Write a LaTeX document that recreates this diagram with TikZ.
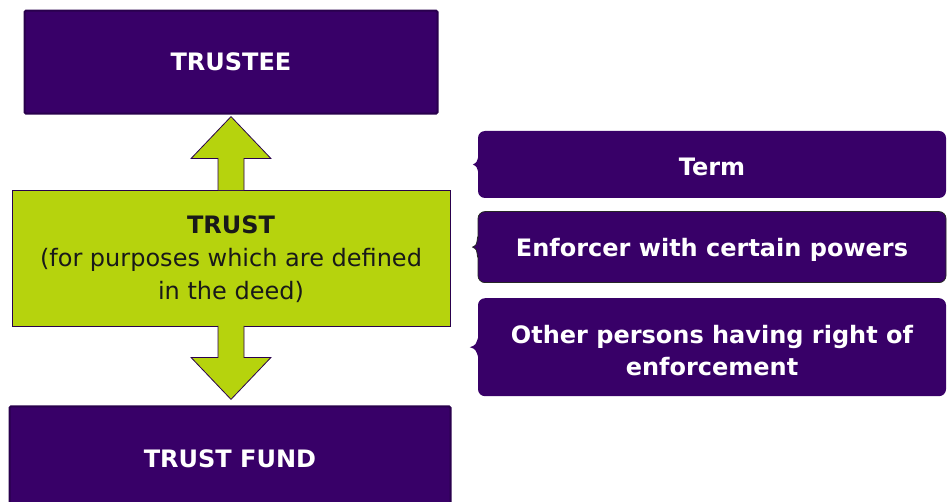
\documentclass[tikz,border=0pt]{standalone}
\usepackage{fontspec}
\setmainfont{DejaVu Sans}
\usetikzlibrary{positioning,calc}
\definecolor{trustpurple}{HTML}{380068}
\definecolor{edgepurple}{HTML}{29004D}
\definecolor{trustgreen}{HTML}{B6D30D}
\tikzset{
partybox/.style={rectangle,fill=trustpurple,draw=edgepurple,line width=2pt,rounded corners=1.5pt,
  text=white,inner sep=0pt,font=\bfseries\fontsize{24}{28}\selectfont},
trustbox/.style={rectangle,fill=trustgreen,draw=edgepurple,line width=0.8pt,inner sep=0pt,
  align=center,text=black!90,font=\fontsize{24}{33}\selectfont},
termbox/.style={rectangle,fill=trustpurple,rounded corners=7pt,text=white,inner sep=0pt,
  align=center,minimum width=468pt,font=\bfseries\fontsize{24}{32}\selectfont},
bigarrow/.style={fill=trustgreen,draw=edgepurple,line width=0.8pt,line join=miter},
brace/.style={fill=trustpurple}}

\begin{document}
\begin{tikzpicture}[x=1pt,y=-1pt]

\useasboundingbox (0,0) rectangle (947,502);
\clip (0,0) rectangle (947,502);

% left column
\node[trustbox,minimum width=438pt,minimum height=136pt,text height=87pt] (trust) at (231,258)
  {\textbf{TRUST}\\(for purposes which are defined\\in the deed)};
\node[partybox,minimum width=413pt,minimum height=103pt,above=75pt of trust] (trustee) {TRUSTEE};
\node[partybox,minimum width=441pt,minimum height=104pt,below=79pt of trust,xshift=-1pt] (fund) {TRUST FUND};

% right column
\node[termbox,minimum height=67pt,text height=23pt] (term) at (712,164.5) {Term};
\node[termbox,minimum height=71pt,text height=24.5pt,draw=black!85,line width=0.8pt,below=13pt of term] (enforcer)
  {Enforcer with certain powers};
\node[termbox,minimum height=98pt,text height=56pt,below=15pt of enforcer] (other)
  {Other persons having right of\\enforcement};

% braces
\path[brace] ([xshift=1pt,yshift=10pt]term.west) .. controls ([xshift=-1pt,yshift=2pt]term.west)
  .. ([xshift=-5pt]term.west) .. controls ([xshift=-1pt,yshift=-2pt]term.west) .. ([xshift=1pt,yshift=-10pt]term.west) -- cycle;
\path[brace,draw=black!85,line width=0.8pt] ([xshift=1pt,yshift=10pt]enforcer.west) -- ([yshift=10pt]enforcer.west)
  .. controls ([xshift=-1pt,yshift=2pt]enforcer.west) .. ([xshift=-5pt]enforcer.west)
  .. controls ([xshift=-1pt,yshift=-2pt]enforcer.west) .. ([yshift=-10pt]enforcer.west) -- ([xshift=1pt,yshift=-10pt]enforcer.west);
\path[brace] ([xshift=1pt,yshift=12pt]other.west) .. controls ([xshift=-2pt,yshift=2pt]other.west)
  .. ([xshift=-8pt]other.west) .. controls ([xshift=-2pt,yshift=-2pt]other.west) .. ([xshift=1pt,yshift=-12pt]other.west) -- cycle;

% double arrow
\coordinate (uptip) at ([yshift=-2pt]trustee.south);
\coordinate (downtip) at ([yshift=6pt]fund.north -| trust.south);
\path[bigarrow] ([xshift=-13pt,yshift=-0.6pt]trust.north) -- ([xshift=-13pt,yshift=-42pt]uptip)
  -- ([xshift=-40pt,yshift=-42pt]uptip) -- (uptip) -- ([xshift=40pt,yshift=-42pt]uptip)
  -- ([xshift=13pt,yshift=-42pt]uptip) -- ([xshift=13pt,yshift=-0.6pt]trust.north);
\path[bigarrow] ([xshift=-13pt,yshift=0.6pt]trust.south) -- ([xshift=-13pt,yshift=42pt]downtip)
  -- ([xshift=-40pt,yshift=42pt]downtip) -- (downtip) -- ([xshift=40pt,yshift=42pt]downtip)
  -- ([xshift=13pt,yshift=42pt]downtip) -- ([xshift=13pt,yshift=0.6pt]trust.south);

\end{tikzpicture}
\end{document}
